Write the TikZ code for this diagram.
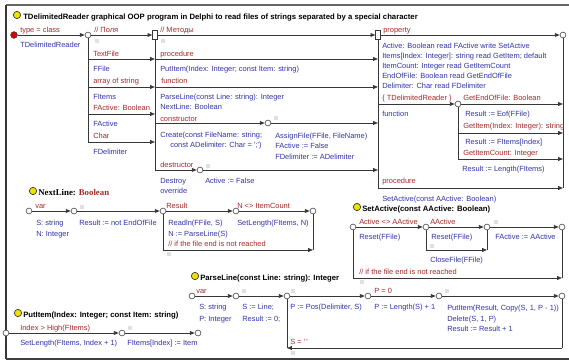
\documentclass[tikz,border=0pt]{standalone}
\usepackage{fontspec}
\setmainfont{Liberation Sans}[Ligatures=TeXOff]
\newfontfamily\serifbf{Liberation Serif}
\usetikzlibrary{arrows.meta}
\definecolor{myblue}{RGB}{50,50,170}
\definecolor{myred}{RGB}{165,40,40}
\definecolor{lin}{RGB}{55,55,55}
\definecolor{ttl}{RGB}{240,225,0}
\tikzset{
 base/.style={font=\fontsize{5.6}{6.5}\selectfont, inner sep=0pt, anchor=west, text height=1.5ex, text depth=0.3ex},
 bt/.style={base, text=myblue},
 rt/.style={base, text=myred},
 ttlt/.style={base, font=\fontsize{5.8}{6.5}\selectfont\bfseries, text=black},
 cir/.style={circle, draw=lin!85, fill=white, inner sep=0pt, minimum size=4.4pt, line width=0.5pt},
 ycir/.style={circle, draw=lin, fill=ttl, inner sep=0pt, minimum size=5.5pt, line width=0.5pt},
 gsq/.style={fill=black!12, inner sep=0pt, minimum size=3.6pt},
 jbox/.style={draw=lin, fill=white, inner sep=0pt, minimum width=3.5pt, minimum height=6.5pt, line width=0.5pt},
 ln/.style={draw=lin, line width=0.6pt},
 ar/.style={ln, -{Triangle[length=3.6pt,width=2.8pt]}},
}
\begin{document}
\begin{tikzpicture}[x=0.75pt,y=-0.75pt]
\useasboundingbox (0,0) rectangle (569,363);
% frame
\coordinate (frTL) at (6,5); \coordinate (frTR) at (569,5);
\coordinate (frBL) at (6,359); \coordinate (frBR) at (569,359);
\draw[line width=1.4pt, draw=black!60] (frTL) -- (frTR);
\draw[line width=0.8pt, draw=lin] (frTL) -- (frBL);
\draw[line width=1.4pt, draw=black!75] (frBL) -- (frBR);

% ===== main class =====
\node[ycir] (ytitle) at (17,15) {};
\node[ttlt] (title) at (23,15) {TDelimitedReader graphical OOP program in Delphi to read files of strings separated by a special character};
\node[circle, draw=lin, fill=red!85!black, inner sep=0pt, minimum size=5pt] (start) at (14,35) {};
\node[rt] (typecls) at (20,28) {type = class};
\node[bt] (tdr) at (20,43) {TDelimitedReader};
\node[cir] (fc) at (88,35) {};
\node[jbox] (mb) at (155,35) {};
\node[jbox] (pb) at (378,35) {};
\node[cir] (pe) at (563,35) {};
\draw[ar] (start) -- (fc);
\draw[ar] (fc) -- (mb);
\draw[ar] (mb) -- (pb);
\draw[ar] (pb) -- (pe);
% fields
\coordinate (fv1) at (88,59); \coordinate (fv2) at (88,87);
\coordinate (fv3) at (88,114); \coordinate (fv4) at (88,142);
\coordinate (mv1) at (155,59); \coordinate (mv2) at (155,87);
\coordinate (mv3) at (155,114); \coordinate (mv4) at (155,142);
\draw[ln] (fc) -- (fv4);
\draw[ar] (fv1) -- (mv1);
\draw[ar] (fv2) -- (mv2);
\draw[ar] (fv3) -- (mv3);
\draw[ar] (fv4) -- (mv4);
\node[rt] (fhead) at (94,28) {// Поля};
\node[gsq] (fsq) at (97,41) {};
\node[rt] (f1) at (93,52) {TextFile};
\node[bt] (f2) at (93,67) {FFile};
\node[rt] (f3) at (93,79) {array of string};
\node[bt] (f4) at (93,95) {FItems};
\node[rt] (f5) at (93,106) {FActive: Boolean};
\node[bt] (f6) at (93,122) {FActive};
\node[rt] (f7) at (93,134) {Char};
\node[bt] (f8) at (93,150) {FDelimiter};
% methods
\coordinate (mv5) at (155,123); \coordinate (mv6) at (155,170);
\coordinate (pv1) at (378,59); \coordinate (pv2) at (378,87);
\coordinate (pv5) at (378,123); \coordinate (pv6) at (378,170);
\node[cir] (cc) at (268,123) {};
\node[cir] (dc) at (200,170) {};
\draw[ln] (mb) -- (mv6);
\draw[ar] (mv1) -- (pv1);
\draw[ar] (mv2) -- (pv2);
\draw[ar] (mv5) -- (cc);
\draw[ar] (cc) -- (pv5);
\draw[ar] (mv6) -- (dc);
\draw[ar] (dc) -- (pv6);
\node[rt] (mhead) at (160,28) {// Методы};
\node[gsq] (msq) at (163,41) {};
\node[rt] (m1) at (160,52) {procedure};
\node[bt] (m2) at (160,67) {PutItem(Index: Integer; const Item: string)};
\node[rt] (m3) at (161,79) {function};
\node[bt] (m4) at (160,95) {ParseLine(const Line: string): Integer};
\node[bt] (m5) at (160,105) {NextLine: Boolean};
\node[rt] (m6) at (160,117) {constructor};
\node[gsq] (csq) at (276,118) {};
\node[bt] (m7) at (160,133) {Create(const FileName: string;};
\node[bt] (m8) at (170,143) {const ADelimiter: Char = ';')};
\node[bt] (m9) at (275,134) {AssignFile(FFile, FileName)};
\node[bt] (m10) at (275,144) {FActive := False};
\node[bt] (m11) at (275,155) {FDelimiter := ADelimiter};
\node[rt] (m12) at (160,163) {destructor};
\node[gsq] (dsq) at (208,166) {};
\node[bt] (m13) at (160,179) {Destroy};
\node[bt] (m14) at (160,189) {override};
\node[bt] (m15) at (205,179) {Active := False};
% properties
\coordinate (pv7) at (378,104); \coordinate (pv8) at (378,188);
\coordinate (rv1) at (563,104); \coordinate (rv2) at (563,133);
\coordinate (rv3) at (563,159); \coordinate (rv4) at (563,188);
\coordinate (gv1) at (458,133); \coordinate (gv2) at (458,159);
\node[cir] (gc) at (458,104) {};
\draw[ln] (pb) -- (pv8);
\draw[ln] (pe) -- (rv4);
\draw[ar] (pv7) -- (gc);
\draw[ar] (gc) -- (rv1);
\draw[ln] (gc) -- (gv2);
\draw[ar] (gv1) -- (rv2);
\draw[ar] (gv2) -- (rv3);
\draw[ar] (pv8) -- (rv4);
\node[rt] (phead) at (383,28) {property};
\node[bt] (p1) at (382,44) {Active: Boolean read FActive write SetActive};
\node[bt] (p2) at (382,54) {Items[Index: Integer]: string read GetItem; default};
\node[bt] (p3) at (382,64) {ItemCount: Integer read GetItemCount};
\node[bt] (p4) at (382,74) {EndOfFile: Boolean read GetEndOfFile};
\node[bt] (p5) at (382,84) {Delimiter: Char read FDelimiter};
\node[rt] (p6) at (382,96) {\{ TDelimitedReader \}};
\node[rt] (p7) at (463,96) {GetEndOfFile: Boolean};
\node[bt] (p8) at (382,112) {function};
\node[bt] (p9) at (465,112) {Result := Eof(FFile)};
\node[rt] (p10) at (463,124) {GetItem(Index: Integer): string};
\node[bt] (p11) at (465,140) {Result := FItems[Index]};
\node[rt] (p12) at (463,151) {GetItemCount: Integer};
\node[bt] (p13) at (462,167) {Result := Length(FItems)};
\node[rt] (p14) at (382,179) {procedure};
\node[bt] (p15) at (382,197) {SetActive(const AActive: Boolean)};

% ===== NextLine =====
\node[ycir] (ynl) at (33,191) {};
\node[base, font=\fontsize{6.6}{7.5}\selectfont\serifbf\bfseries] (nltitle) at (38,191) {NextLine: \textcolor{myred}{Boolean}};
\node[rt] (nlvar) at (35,204) {var};
\node[cir] (na) at (29,211) {};
\node[cir] (nb) at (74,211) {};
\node[cir] (nc) at (163,211) {};
\node[cir] (nd) at (236,211) {};
\node[cir] (ne) at (313,211) {};
\coordinate (nbl) at (163,250); \coordinate (nbr) at (313,250);
\draw[ar] (na) -- (nb);
\draw[ar] (nb) -- (nc);
\draw[ar] (nc) -- (nd);
\draw[ar] (nd) -- (ne);
\draw[ln] (nc) -- (nbl);
\draw[ln] (ne) -- (nbr);
\draw[ar] (nbl) -- (nbr);
\node[gsq] (nsq1) at (82,207) {};
\node[gsq] (nsq2) at (169,254) {};
\node[bt] (n1) at (36,221) {S: string};
\node[bt] (n2) at (36,232) {N: Integer};
\node[bt] (n3) at (79,221) {Result := not EndOfFile};
\node[rt] (n4) at (166,204) {Result};
\node[bt] (n5) at (168,221) {Readln(FFile, S)};
\node[bt] (n6) at (168,232) {N := ParseLine(S)};
\node[rt] (n7) at (168,242) {// if the file end is not reached};
\node[rt] (n8) at (237,204) {N <> ItemCount};
\node[bt] (n9) at (237,221) {SetLength(FItems, N)};

% ===== SetActive =====
\node[ycir] (ysa) at (357,207) {};
\node[ttlt] (satitle) at (362,207) {SetActive(const AActive: Boolean)};
\node[cir] (sa) at (353,227) {};
\node[cir] (sb) at (426,227) {};
\node[cir] (sc) at (487,227) {};
\node[cir] (sd) at (562,227) {};
\coordinate (sbl) at (426,250); \coordinate (sbr) at (487,250);
\coordinate (sal) at (353,278); \coordinate (sar) at (562,278);
\draw[ar] (sa) -- (sb);
\draw[ar] (sb) -- (sc);
\draw[ar] (sc) -- (sd);
\draw[ln] (sb) -- (sbl);
\draw[ln] (sc) -- (sbr);
\draw[ar] (sbl) -- (sbr);
\draw[ln] (sa) -- (sal);
\draw[ln] (sd) -- (sar);
\draw[ar] (sal) -- (sar);
\node[rt] (s1) at (359,220) {Active <> AActive};
\node[bt] (s2) at (359,235) {Reset(FFile)};
\node[rt] (s3) at (430,220) {AActive};
\node[bt] (s4) at (431,235) {Reset(FFile)};
\node[gsq] (ssq1) at (432,246) {};
\node[bt] (s5) at (430,258) {CloseFile(FFile)};
\node[rt] (s6) at (359,270) {// if the file end is not reached};
\node[gsq] (ssq2) at (496,222) {};
\node[bt] (s7) at (495,235) {FActive := AActive};
\node[gsq] (ssq3) at (362,282) {};

% ===== ParseLine =====
\node[ycir] (ypl) at (195,276) {};
\node[ttlt] (pltitle) at (200,276) {ParseLine(const Line: string): Integer};
\node[cir] (qa) at (192,296) {};
\node[cir] (qb) at (236,296) {};
\node[cir] (qc) at (287,296) {};
\node[cir] (qd) at (368,296) {};
\node[cir] (qe) at (439,296) {};
\node[cir] (qf) at (562,296) {};
\coordinate (qcl) at (287,348); \coordinate (qfr) at (562,348);
\draw[ar] (qa) -- (qb);
\draw[ar] (qb) -- (qc);
\draw[ar] (qc) -- (qd);
\draw[ar] (qd) -- (qe);
\draw[ar] (qe) -- (qf);
\draw[ln] (qc) -- (qcl);
\draw[ln] (qf) -- (qfr);
\draw[ar] (qfr) -- (qcl);
\node[rt] (q1) at (196,289) {var};
\node[bt] (q2) at (199,305) {S: string};
\node[bt] (q3) at (199,317) {P: Integer};
\node[gsq] (qsq1) at (244,291) {};
\node[bt] (q4) at (242,305) {S := Line;};
\node[bt] (q5) at (242,317) {Result := 0;};
\node[gsq] (qsq2) at (293,291) {};
\node[bt] (q6) at (290,305) {P := Pos(Delimiter, S)};
\node[rt] (q7) at (290,340) {S = '\,'};
\node[gsq] (qsq3) at (293,353) {};
\node[rt] (q8) at (374,289) {P = 0};
\node[bt] (q9) at (374,305) {P := Length(S) + 1};
\node[gsq] (qsq4) at (447,291) {};
\node[bt] (q10) at (447,306) {PutItem(Result, Copy(S, 1, P - 1))};
\node[bt] (q11) at (447,317) {Delete(S, 1, P)};
\node[bt] (q12) at (447,327) {Result := Result + 1};

% ===== PutItem =====
\node[ycir] (ypi) at (18,313) {};
\node[ttlt] (pititle) at (23,313) {PutItem(Index: Integer; const Item: string)};
\node[cir] (ua) at (6,333) {};
\node[cir] (ub) at (122,333) {};
\node[cir] (uc) at (198,333) {};
\draw[ar] (ua) -- (ub);
\draw[ar] (ub) -- (uc);
\node[rt] (u1) at (20,326) {Index > High(FItems)};
\node[bt] (u2) at (20,341) {SetLength(FItems, Index + 1)};
\node[gsq] (usq) at (130,328) {};
\node[bt] (u3) at (127,341) {FItems[Index] := Item};
\end{tikzpicture}
\end{document}
